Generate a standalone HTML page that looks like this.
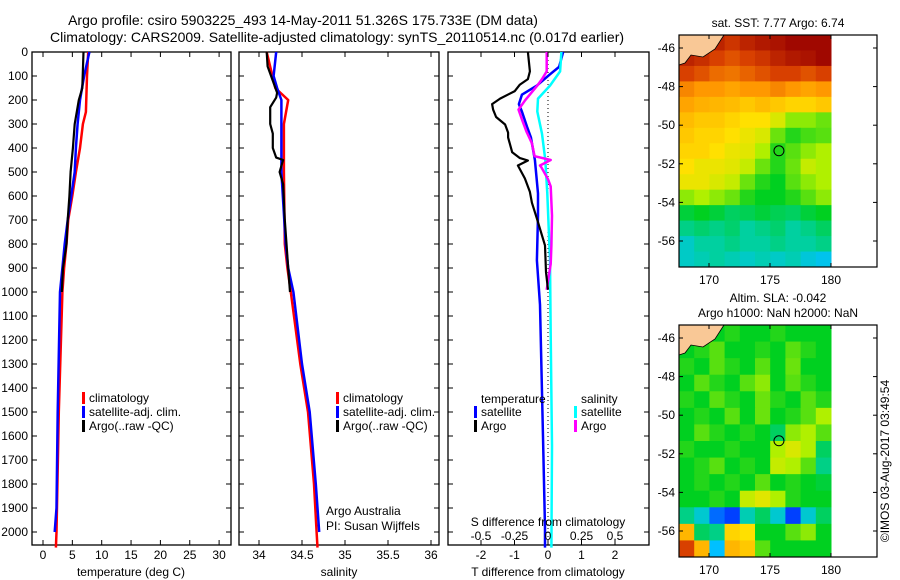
<!DOCTYPE html>
<html><head><meta charset="utf-8"><style>
html,body{margin:0;padding:0;background:#fff;}
svg{display:block;font-family:"Liberation Sans",sans-serif;}
</style></head><body>
<svg id="fig" width="900" height="580" viewBox="0 0 900 580">
<text x="303" y="25" font-size="14" text-anchor="middle">Argo profile: csiro 5903225_493 14-May-2011 51.326S 175.733E (DM data)</text>
<text x="337" y="42" font-size="14" text-anchor="middle">Climatology: CARS2009. Satellite-adjusted climatology: synTS_20110514.nc (0.017d earlier)</text>
<g id="g"></g>
</svg>
<script>
// ---------- data ----------
const depthTicks=[0,100,200,300,400,500,600,700,800,900,1000,1100,1200,1300,1400,1500,1600,1700,1800,1900,2000];
const tempTicks=[0,5,10,15,20,25,30];
const salTicks=[34,34.5,35,35.5,36];
const tdiffTicks=[-2,-1,0,1,2];
const sdiffTicks=[-0.5,-0.25,0,0.25,0.5];
const sdiffTickLabels=["-0.5","-0.25","0","0.25","0.5"];

const tClimDepth=[0,100,250,300,400,500,600,700,800,900,1000,1500,2000,2065];
const tClimVal=[7.7,7.5,7.3,6.8,6.3,5.6,5.0,4.3,4.0,3.6,3.3,2.7,2.3,2.2];
const tSatDepth=[0,100,200,300,400,500,600,700,800,900,1000,1500,1900,2000];
const tSatVal=[7.9,7.0,6.3,5.9,5.6,5.4,4.8,4.2,3.7,3.3,2.9,2.5,2.3,2.0];
const tArgoDepth=[0,150,200,300,400,500,600,700,800,900,1000];
const tArgoVal=[6.9,6.7,6.1,5.4,5.1,4.7,4.5,4.2,4.0,3.4,3.2];

const sClimDepth=[0,150,200,300,500,800,900,1000,1300,1500,1800,2000,2065];
const sClimVal=[34.09,34.19,34.34,34.29,34.29,34.30,34.33,34.37,34.48,34.57,34.64,34.67,34.68];
const sSatDepth=[0,100,150,200,500,800,900,1000,1300,1500,1800,2000];
const sSatVal=[34.20,34.17,34.21,34.26,34.26,34.31,34.34,34.40,34.50,34.59,34.66,34.70];
const sArgoDepth=[0,60,120,170,190,230,300,340,400,440,450,500,550,700,900,1000];
const sArgoVal=[34.09,34.10,34.16,34.21,34.20,34.13,34.13,34.16,34.16,34.20,34.28,34.24,34.28,34.30,34.34,34.36];

const dTArgoDepth=[0,81,113,136,163,194,217,240,271,302,336,356,418,442,452,473,527,583,628,694,806,917,991];
const dTArgoVal=[-0.6,-0.54,-0.6,-0.84,-0.99,-1.43,-1.67,-1.64,-1.55,-1.28,-1.19,-1.19,-1.07,-0.84,-0.6,-0.9,-0.69,-0.54,-0.48,-0.33,-0.09,-0.06,0];
const dTSatDepth=[0,62,93,140,178,217,248,310,356,450,589,682,868,1053,1603,1983,2065];
const dTSatVal=[0.45,0.33,0.06,-0.33,-0.78,-0.87,-0.78,-0.63,-0.51,-0.39,-0.3,-0.3,-0.33,-0.24,-0.15,-0.09,-0.09];
const dSArgoDepth=[0,81,113,140,201,240,287,333,380,434,450,473,480,530,560,682,806,883,991];
const dSArgoVal=[-0.01,-0.01,-0.045,-0.08,-0.17,-0.22,-0.19,-0.16,-0.12,-0.1,0.02,-0.06,-0.05,0.0,0.02,0.03,0.025,0.02,-0.01];
const dSSatDepth=[0,81,140,194,248,341,450,589,868,1177,1642,2065];
const dSSatVal=[0.1,0.09,0.015,-0.075,-0.08,-0.045,-0.02,-0.005,0.015,0.02,0.03,0.025];

const lonTicks=[170,175,180];
const latTicks=[-46,-48,-50,-52,-54,-56];
const sstGrid=[
[1,1,.95,.92,.95,.97,.98,1,1,1],
[.95,.93,.9,.88,.9,.92,.95,.97,.98,1],
[.9,.88,.85,.84,.86,.88,.9,.9,.88,.9],
[.82,.8,.8,.78,.8,.8,.82,.8,.78,.8],
[.78,.76,.75,.74,.72,.74,.72,.7,.7,.72],
[.74,.72,.72,.7,.68,.68,.64,.58,.58,.56],
[.72,.7,.7,.68,.66,.64,.56,.52,.54,.55],
[.7,.7,.68,.66,.65,.6,.52,.55,.58,.6],
[.68,.66,.66,.65,.62,.56,.52,.56,.62,.6],
[.66,.66,.64,.62,.56,.52,.5,.55,.58,.6],
[.58,.6,.58,.56,.52,.5,.5,.52,.55,.58],
[.48,.5,.48,.45,.46,.48,.46,.45,.48,.5],
[.42,.44,.42,.44,.4,.42,.44,.4,.42,.45],
[.36,.4,.4,.42,.4,.4,.42,.4,.4,.42],
[.36,.38,.4,.38,.36,.38,.36,.38,.34,.32]];
const slaGrid=[
[.5,.5,.5,.52,.5,.5,.52,.5,.5,.5],
[.5,.52,.55,.5,.5,.52,.5,.55,.52,.5],
[.52,.5,.55,.52,.5,.55,.5,.56,.5,.5],
[.5,.55,.52,.5,.55,.58,.5,.55,.52,.5],
[.52,.5,.55,.52,.5,.56,.52,.5,.55,.52],
[.5,.52,.5,.55,.5,.56,.5,.52,.55,.6],
[.5,.55,.52,.5,.52,.5,.45,.58,.6,.55],
[.52,.5,.5,.52,.5,.5,.6,.64,.6,.45],
[.5,.52,.55,.5,.52,.5,.62,.6,.55,.42],
[.5,.52,.5,.52,.5,.55,.5,.52,.5,.48],
[.5,.5,.52,.5,.62,.65,.6,.52,.5,.5],
[.42,.35,.2,.15,.38,.45,.35,.15,.35,.45],
[.75,.45,.42,.7,.68,.5,.5,.55,.58,.5],
[.9,.75,.3,.75,.72,.55,.5,.5,.5,.5]];
const argoLon=175.733, argoLat=-51.326;

// ---------- helpers ----------
const NS="http://www.w3.org/2000/svg";
const G=document.getElementById('g');
function mk(tag,attrs,parent){const e=document.createElementNS(NS,tag);for(const k in attrs)e.setAttribute(k,attrs[k]);(parent||G).appendChild(e);return e;}
const PT=52,PB=545;
const yD=d=>PT+0.24*d;
const xT=t=>43+5.87*t;
const xS=s=>259+86*(s-34);
const xDT=t=>548+33.5*t;
const xDS=s=>548+134*s;

function stepPath(depths,vals,fx){let p='';for(let i=0;i<depths.length;i++){const x=fx(vals[i]).toFixed(1),y=yD(depths[i]).toFixed(1);p+=(i?'L':'M')+x+' '+y;}return p;}
function frame(x0,x1,name){
  const r=mk('rect',{x:x0,y:PT,width:x1-x0,height:PB-PT,fill:'none',stroke:'#000','stroke-width':1.3});
  
  
  depthTicks.forEach(d=>{const y=yD(d);mk('line',{x1:x0,x2:x0+5,y1:y,y2:y,stroke:'#000'});mk('line',{x1:x1,x2:x1-5,y1:y,y2:y,stroke:'#000'});});
}
function series(depths,vals,fx,color,w,name){
  const p=mk('path',{d:stepPath(depths,vals,fx),fill:'none',stroke:color,'stroke-width':w,'stroke-linejoin':'round'});
  
  
}
function xticks(ticks,fx,labels,y,name){
  ticks.forEach((t,i)=>{const x=fx(t);mk('line',{x1:x,x2:x,y1:PB,y2:PB-5,stroke:'#000'});mk('line',{x1:x,x2:x,y1:PT,y2:PT+5,stroke:'#000'});
    const tx=mk('text',{x:x,y:y,'font-size':12,'text-anchor':'middle'});tx.textContent=labels?labels[i]:String(t);
    
    });
}
function txt(s,x,y,size,anchor,name){const t=mk('text',{x:x,y:y,'font-size':size,'text-anchor':anchor||'start'});t.textContent=s;
  
  return t;}
function legendEntry(x,y,color,label,name){mk('rect',{x:x,y:y-10,width:3,height:12,fill:color});txt(label,x+7,y,12,'start',name);}

depthTicks.forEach(d=>{txt(String(d),28,yD(d)+4,12,'end','depth-tick-label');});

// panel 1
frame(32,231,'temperature-panel');
series(tClimDepth,tClimVal,xT,'#f00',2.5,'temperature-climatology-line');
series(tSatDepth,tSatVal,xT,'#00f',2.5,'temperature-satellite-line');
series(tArgoDepth,tArgoVal,xT,'#000',2.2,'temperature-argo-line');
xticks(tempTicks,xT,null,559,'temperature-tick-label');
txt('temperature (deg C)',131,576,12,'middle','temperature-axis-title');
legendEntry(82,402,'#f00','climatology','legend-climatology');
legendEntry(82,416,'#00f','satellite-adj. clim.','legend-satellite');
legendEntry(82,430,'#000','Argo(..raw -QC)','legend-argo');

// panel 2
frame(239,439,'salinity-panel');
series(sClimDepth,sClimVal,xS,'#f00',2.5,'salinity-climatology-line');
series(sSatDepth,sSatVal,xS,'#00f',2.5,'salinity-satellite-line');
series(sArgoDepth,sArgoVal,xS,'#000',2.2,'salinity-argo-line');
xticks(salTicks,xS,null,559,'salinity-tick-label');
txt('salinity',339,576,12,'middle','salinity-axis-title');
legendEntry(336,402,'#f00','climatology','legend-climatology');
legendEntry(336,416,'#00f','satellite-adj. clim.','legend-satellite');
legendEntry(336,430,'#000','Argo(..raw -QC)','legend-argo');
txt('Argo Australia',326,515,12,'start','credit-argo-australia');
txt('PI: Susan Wijffels',326,530,12,'start','credit-pi');

// panel 3
frame(448,649,'difference-panel');
mk('line',{x1:xDT(0),x2:xDT(0),y1:PT,y2:PB,stroke:'#000','stroke-dasharray':'1,3'});
series(dTSatDepth,dTSatVal,xDT,'#00f',2.5,'tdiff-satellite-line');
series(dSSatDepth,dSSatVal,xDS,'#0ff',2.5,'sdiff-satellite-line');
series(dSArgoDepth,dSArgoVal,xDS,'#f0f',2.5,'sdiff-argo-line');
series(dTArgoDepth,dTArgoVal,xDT,'#000',2.2,'tdiff-argo-line');
xticks(tdiffTicks,xDT,null,559,'tdiff-tick-label');
txt('T difference from climatology',548,576,12,'middle','tdiff-axis-title');
sdiffTicks.forEach((s,i)=>{txt(sdiffTickLabels[i],xDS(s),540,12,'middle','sdiff-tick-label');});
txt('S difference from climatology',548,526,12,'middle','sdiff-axis-title');
txt('temperature',481,403,12,'start','legend-temperature-header');
legendEntry(474,416,'#00f','satellite','legend-t-satellite');
legendEntry(474,430,'#000','Argo','legend-t-argo');
txt('salinity',581,403,12,'start','legend-salinity-header');
legendEntry(574,416,'#0ff','satellite','legend-s-satellite');
legendEntry(574,430,'#f0f','Argo','legend-s-argo');

// ---------- maps ----------
const stops=[[0,[0,0,144]],[0.15,[0,64,255]],[0.3,[0,192,255]],[0.4,[0,208,160]],[0.5,[0,208,32]],[0.6,[176,240,0]],[0.68,[255,224,0]],[0.8,[255,152,0]],[0.9,[216,64,0]],[1,[160,8,0]]];
function cmap(v){for(let i=1;i<stops.length;i++){if(v<=stops[i][0]){const a=stops[i-1],b=stops[i],f=(v-a[0])/(b[0]-a[0]);const c=a[1].map((x,k)=>Math.round(x+(b[1][k]-x)*f));return `rgb(${c[0]},${c[1]},${c[2]})`;}}return 'rgb(160,8,0)';}
function drawMap(grid,top,bot,lat46y,name){
  const X0=679,X1=877,DX1=831;
  const xL=lon=>709+12.2*(lon-170);
  const yL=lat=>lat46y+19.3*(-46-lat);
  const rows=grid.length,cols=grid[0].length,cw=(DX1-X0)/cols,ch=(bot-top)/rows;
  grid.forEach((row,r)=>row.forEach((v,c)=>{const cell=mk('rect',{x:X0+c*cw,y:top+r*ch,width:cw+0.5,height:ch+0.5,fill:cmap(v)});
    
    }));
  const land=mk('path',{d:`M${X0} ${top} L${X0+45} ${top} L${X0+36} ${top+14} L${X0+24} ${top+22} L${X0+12} ${top+20} L${X0+6} ${top+28} L${X0} ${top+30} Z`,fill:'#f9c896',stroke:'#000','stroke-width':0.8});
  
  
  const b=mk('rect',{x:X0,y:top,width:X1-X0,height:bot-top,fill:'none',stroke:'#000','stroke-width':1.2});
  
  
  lonTicks.forEach(l=>{const x=xL(l);mk('line',{x1:x,x2:x,y1:bot,y2:bot-4,stroke:'#000'});mk('line',{x1:x,x2:x,y1:top,y2:top+4,stroke:'#000'});txt(String(l),x,bot+17,12,'middle','map-lon-label');});
  latTicks.forEach(l=>{const y=yL(l);mk('line',{x1:X0,x2:X0+4,y1:y,y2:y,stroke:'#000'});mk('line',{x1:X1,x2:X1-4,y1:y,y2:y,stroke:'#000'});txt(String(l),X0-4,y+4,12,'end','map-lat-label');});
  const c=mk('circle',{cx:xL(argoLon),cy:yL(argoLat),r:5,fill:'none',stroke:'#000','stroke-width':1});
  
  
}
drawMap(sstGrid,35,267,48,'sst-map');
drawMap(slaGrid,325,557,338,'sla-map');
txt('sat. SST: 7.77  Argo: 6.74',778,27,12,'middle','sst-map-title');
txt('Altim. SLA: -0.042',778,302,12,'middle','sla-map-title');
txt('Argo h1000: NaN h2000: NaN',778,317,12,'middle','sla-map-subtitle');
const cp=txt('©IMOS 03-Aug-2017 03:49:54',0,0,12,'middle','copyright-stamp');
cp.setAttribute('transform','translate(889,461) rotate(-90)');
</script>
</body></html>
